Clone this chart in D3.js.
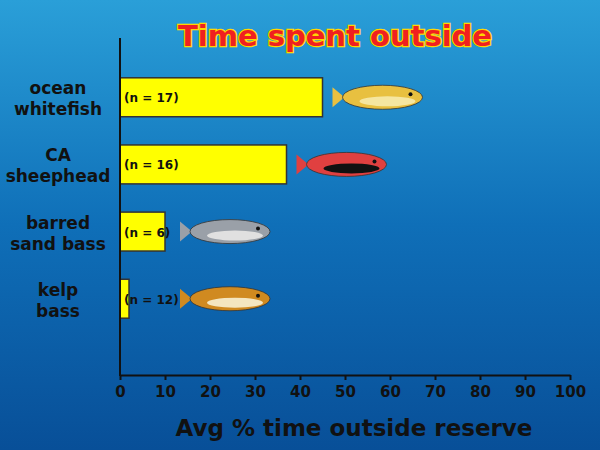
<!DOCTYPE html>
<html><head><meta charset="utf-8">
<script src="https://cdn.jsdelivr.net/npm/d3@7"></script>
<style>body{margin:0}svg{display:block}</style>
</head><body><svg id="c" width="600" height="450"></svg>
<script>
const categories = [["ocean","whitefish"],["CA","sheephead"],["barred","sand bass"],["kelp","bass"]];
const values = [45, 37, 10, 2];
const nLabels = ["(n = 17)","(n = 16)","(n = 6)","(n = 12)"];
const ticks = [0,10,20,30,40,50,60,70,80,90,100];
const fishColors = [["#e8c040","#f5e6a0"],["#e04040","#111"],["#9aa0a8","#e0e0e0"],["#d08a20","#f4e6c0"]];

const svg = d3.select("#c");
const defs = svg.append("defs");
const g = defs.append("linearGradient").attr("id","bg").attr("x1",0).attr("y1",0).attr("x2",0).attr("y2",1);
g.append("stop").attr("offset","0").attr("stop-color","#2a9fd8");
g.append("stop").attr("offset","0.5").attr("stop-color","#0f6fb8");
g.append("stop").attr("offset","1").attr("stop-color","#084f98");
svg.append("rect").attr("width",600).attr("height",450).attr("fill","url(#bg)");

const x = d3.scaleLinear().domain([0,100]).range([120,570]);
const y = d3.scaleBand().domain(d3.range(4)).range([61,335]).paddingInner(0.42).paddingOuter(0.25);

// title
svg.append("text").attr("x",335).attr("y",46).attr("text-anchor","middle")
 .attr("font-family","Verdana, DejaVu Sans, sans-serif").attr("font-weight","bold").attr("font-size",29)
 .attr("fill","#f02020").attr("stroke","#ffd700").attr("stroke-width",2.5).attr("paint-order","stroke")
 .text("Time spent outside");

// simple fish
values.forEach((v,i)=>{
  const left = Math.max(x(v)+10, 180);
  const cx = left+50, cy = y(i)+y.bandwidth()/2;
  const f = svg.append("g").attr("transform",`translate(${cx},${cy})`);
  f.append("path").attr("d","M-38,0 L-50,-10 L-50,10 Z").attr("fill",fishColors[i][0]);
  f.append("ellipse").attr("rx",40).attr("ry",12).attr("fill",fishColors[i][0]).attr("stroke","#333").attr("stroke-width",0.8);
  f.append("ellipse").attr("cx",5).attr("cy",4).attr("rx",28).attr("ry",5).attr("fill",fishColors[i][1]);
  f.append("circle").attr("cx",28).attr("cy",-3).attr("r",2).attr("fill","#111");
});

// bars
svg.selectAll(".bar").data(values).enter().append("rect")
 .attr("x",x(0)).attr("y",(d,i)=>y(i)).attr("width",d=>x(d)-x(0)).attr("height",y.bandwidth())
 .attr("fill","#ffff00").attr("stroke","#333").attr("stroke-width",1.5);
svg.selectAll(".nl").data(nLabels).enter().append("text")
 .attr("x",124).attr("y",(d,i)=>y(i)+y.bandwidth()/2+5)
 .attr("font-family","Verdana, DejaVu Sans, sans-serif").attr("font-weight","bold").attr("font-size",12)
 .attr("fill","#111").text(d=>d);

// category labels
categories.forEach((c,i)=>{
  const t = svg.append("text").attr("text-anchor","middle").attr("fill","#111")
   .attr("font-family","Verdana, DejaVu Sans, sans-serif").attr("font-weight","bold").attr("font-size",17);
  c.forEach((l,j)=>t.append("tspan").attr("x",58).attr("y",y(i)+y.bandwidth()/2-3+j*21).text(l));
});

// axes
const ax = svg.append("g").attr("transform","translate(0,375)")
 .call(d3.axisBottom(x).tickValues(ticks).tickSize(5).tickSizeOuter(0));
ax.select(".domain").attr("stroke","#111").attr("stroke-width",2);
ax.selectAll("line").attr("stroke","#111").attr("stroke-width",2);
ax.selectAll("text").attr("fill","#111").attr("font-family","Verdana, DejaVu Sans, sans-serif")
 .attr("font-weight","bold").attr("font-size",15).attr("dy","0.9em");
svg.append("line").attr("x1",120).attr("x2",120).attr("y1",38).attr("y2",376).attr("stroke","#111").attr("stroke-width",2);

svg.append("text").attr("x",354).attr("y",436).attr("text-anchor","middle").attr("fill","#111")
 .attr("font-family","Verdana, DejaVu Sans, sans-serif").attr("font-weight","bold").attr("font-size",23)
 .text("Avg % time outside reserve");
</script></body></html>
